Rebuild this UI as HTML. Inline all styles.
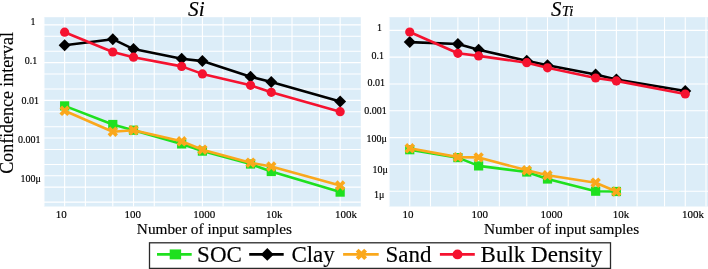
<!DOCTYPE html>
<html><head><meta charset="utf-8"><style>
html,body{margin:0;padding:0;background:#fff;width:708px;height:269px;overflow:hidden;}
svg{display:block;filter:blur(0.45px);}
text{stroke:#000;stroke-width:0.15px;paint-order:stroke;}
</style></head><body>
<svg width="716" height="275" viewBox="0 0 716 275" font-family='"Liberation Serif", serif' fill="#000">
<defs><clipPath id="cl"><rect x="43.9" y="17.2" width="316.90" height="189.30"/></clipPath>
<clipPath id="cr"><rect x="388.9" y="17.2" width="327.10" height="189.30"/></clipPath></defs>
<rect x="0" y="0" width="716" height="275" fill="#fff"/>
<rect x="43.9" y="17.2" width="316.90" height="189.30" fill="#dcedf8"/>
<rect x="388.9" y="17.2" width="327.10" height="189.30" fill="#dcedf8"/>
<path d="M43.91 17.2V206.5M64.64 17.2V206.5M85.37 17.2V206.5M112.79 17.2V206.5M133.52 17.2V206.5M154.25 17.2V206.5M181.67 17.2V206.5M202.40 17.2V206.5M223.13 17.2V206.5M250.55 17.2V206.5M271.28 17.2V206.5M292.01 17.2V206.5M319.43 17.2V206.5M340.16 17.2V206.5M43.9 202.17H360.8M43.9 187.16H360.8M43.9 175.80H360.8M43.9 164.44H360.8M43.9 149.43H360.8M43.9 138.07H360.8M43.9 126.71H360.8M43.9 111.70H360.8M43.9 100.34H360.8M43.9 88.98H360.8M43.9 73.97H360.8M43.9 62.61H360.8M43.9 51.25H360.8M43.9 36.24H360.8M43.9 24.88H360.8" stroke="#fff" stroke-width="1.1" fill="none"/>
<path d="M389.01 17.2V206.5M409.74 17.2V206.5M430.47 17.2V206.5M457.89 17.2V206.5M478.62 17.2V206.5M499.35 17.2V206.5M526.77 17.2V206.5M547.50 17.2V206.5M568.23 17.2V206.5M595.65 17.2V206.5M616.38 17.2V206.5M637.11 17.2V206.5M664.53 17.2V206.5M685.26 17.2V206.5M705.99 17.2V206.5M388.9 191.22H716M388.9 164.41H716M388.9 137.60H716M388.9 110.79H716M388.9 83.98H716M388.9 57.17H716M388.9 30.36H716" stroke="#fff" stroke-width="1.1" fill="none"/>
<g clip-path="url(#cl)"><polyline points="64.64,105.90 112.79,124.50 133.52,130.20 181.67,143.90 202.40,151.10 250.55,164.00 271.28,171.50 340.16,192.10" fill="none" stroke="#1fe01f" stroke-width="2.6" stroke-linejoin="round"/><rect x="60.04" y="101.30" width="9.20" height="9.20" fill="#1fe01f"/><rect x="108.19" y="119.90" width="9.20" height="9.20" fill="#1fe01f"/><rect x="128.92" y="125.60" width="9.20" height="9.20" fill="#1fe01f"/><rect x="177.07" y="139.30" width="9.20" height="9.20" fill="#1fe01f"/><rect x="197.80" y="146.50" width="9.20" height="9.20" fill="#1fe01f"/><rect x="245.95" y="159.40" width="9.20" height="9.20" fill="#1fe01f"/><rect x="266.68" y="166.90" width="9.20" height="9.20" fill="#1fe01f"/><rect x="335.56" y="187.50" width="9.20" height="9.20" fill="#1fe01f"/><polyline points="64.64,45.30 112.79,39.20 133.52,49.10 181.67,58.70 202.40,61.10 250.55,76.80 271.28,82.00 340.16,101.60" fill="none" stroke="#000000" stroke-width="2.6" stroke-linejoin="round"/><path d="M70.62,45.30L64.64,51.28L58.66,45.30L64.64,39.32Z" fill="#000000"/><path d="M118.77,39.20L112.79,45.18L106.81,39.20L112.79,33.22Z" fill="#000000"/><path d="M139.50,49.10L133.52,55.08L127.54,49.10L133.52,43.12Z" fill="#000000"/><path d="M187.65,58.70L181.67,64.68L175.69,58.70L181.67,52.72Z" fill="#000000"/><path d="M208.38,61.10L202.40,67.08L196.42,61.10L202.40,55.12Z" fill="#000000"/><path d="M256.53,76.80L250.55,82.78L244.57,76.80L250.55,70.82Z" fill="#000000"/><path d="M277.26,82.00L271.28,87.98L265.30,82.00L271.28,76.02Z" fill="#000000"/><path d="M346.14,101.60L340.16,107.58L334.18,101.60L340.16,95.62Z" fill="#000000"/><polyline points="64.64,110.80 112.79,131.70 133.52,130.20 181.67,141.30 202.40,149.70 250.55,162.70 271.28,166.50 340.16,185.50" fill="none" stroke="#faa81c" stroke-width="2.6" stroke-linejoin="round"/><path d="M64.64,113.40L67.24,116.00L69.84,113.40L67.24,110.80L69.84,108.20L67.24,105.60L64.64,108.20L62.04,105.60L59.44,108.20L62.04,110.80L59.44,113.40L62.04,116.00Z" fill="#faa81c"/><path d="M112.79,134.30L115.39,136.90L117.99,134.30L115.39,131.70L117.99,129.10L115.39,126.50L112.79,129.10L110.19,126.50L107.59,129.10L110.19,131.70L107.59,134.30L110.19,136.90Z" fill="#faa81c"/><path d="M133.52,132.80L136.12,135.40L138.72,132.80L136.12,130.20L138.72,127.60L136.12,125.00L133.52,127.60L130.92,125.00L128.32,127.60L130.92,130.20L128.32,132.80L130.92,135.40Z" fill="#faa81c"/><path d="M181.67,143.90L184.27,146.50L186.87,143.90L184.27,141.30L186.87,138.70L184.27,136.10L181.67,138.70L179.07,136.10L176.47,138.70L179.07,141.30L176.47,143.90L179.07,146.50Z" fill="#faa81c"/><path d="M202.40,152.30L205.00,154.90L207.60,152.30L205.00,149.70L207.60,147.10L205.00,144.50L202.40,147.10L199.80,144.50L197.20,147.10L199.80,149.70L197.20,152.30L199.80,154.90Z" fill="#faa81c"/><path d="M250.55,165.30L253.15,167.90L255.75,165.30L253.15,162.70L255.75,160.10L253.15,157.50L250.55,160.10L247.95,157.50L245.35,160.10L247.95,162.70L245.35,165.30L247.95,167.90Z" fill="#faa81c"/><path d="M271.28,169.10L273.88,171.70L276.48,169.10L273.88,166.50L276.48,163.90L273.88,161.30L271.28,163.90L268.68,161.30L266.08,163.90L268.68,166.50L266.08,169.10L268.68,171.70Z" fill="#faa81c"/><path d="M340.16,188.10L342.76,190.70L345.36,188.10L342.76,185.50L345.36,182.90L342.76,180.30L340.16,182.90L337.56,180.30L334.96,182.90L337.56,185.50L334.96,188.10L337.56,190.70Z" fill="#faa81c"/><polyline points="64.64,32.20 112.79,52.00 133.52,57.20 181.67,66.40 202.40,73.90 250.55,85.30 271.28,92.30 340.16,111.70" fill="none" stroke="#f5122f" stroke-width="2.6" stroke-linejoin="round"/><circle cx="64.64" cy="32.20" r="4.6" fill="#f5122f"/><circle cx="112.79" cy="52.00" r="4.6" fill="#f5122f"/><circle cx="133.52" cy="57.20" r="4.6" fill="#f5122f"/><circle cx="181.67" cy="66.40" r="4.6" fill="#f5122f"/><circle cx="202.40" cy="73.90" r="4.6" fill="#f5122f"/><circle cx="250.55" cy="85.30" r="4.6" fill="#f5122f"/><circle cx="271.28" cy="92.30" r="4.6" fill="#f5122f"/><circle cx="340.16" cy="111.70" r="4.6" fill="#f5122f"/></g>
<g clip-path="url(#cr)"><polyline points="409.74,149.70 457.89,157.60 478.62,165.90 526.77,172.00 547.50,179.00 595.65,191.20 616.38,191.50" fill="none" stroke="#1fe01f" stroke-width="2.6" stroke-linejoin="round"/><rect x="405.14" y="145.10" width="9.20" height="9.20" fill="#1fe01f"/><rect x="453.29" y="153.00" width="9.20" height="9.20" fill="#1fe01f"/><rect x="474.02" y="161.30" width="9.20" height="9.20" fill="#1fe01f"/><rect x="522.17" y="167.40" width="9.20" height="9.20" fill="#1fe01f"/><rect x="542.90" y="174.40" width="9.20" height="9.20" fill="#1fe01f"/><rect x="591.05" y="186.60" width="9.20" height="9.20" fill="#1fe01f"/><rect x="611.78" y="186.90" width="9.20" height="9.20" fill="#1fe01f"/><polyline points="409.74,42.10 457.89,44.00 478.62,49.80 526.77,60.80 547.50,65.20 595.65,74.50 616.38,79.50 685.26,91.00" fill="none" stroke="#000000" stroke-width="2.6" stroke-linejoin="round"/><path d="M415.72,42.10L409.74,48.08L403.76,42.10L409.74,36.12Z" fill="#000000"/><path d="M463.87,44.00L457.89,49.98L451.91,44.00L457.89,38.02Z" fill="#000000"/><path d="M484.60,49.80L478.62,55.78L472.64,49.80L478.62,43.82Z" fill="#000000"/><path d="M532.75,60.80L526.77,66.78L520.79,60.80L526.77,54.82Z" fill="#000000"/><path d="M553.48,65.20L547.50,71.18L541.52,65.20L547.50,59.22Z" fill="#000000"/><path d="M601.63,74.50L595.65,80.48L589.67,74.50L595.65,68.52Z" fill="#000000"/><path d="M622.36,79.50L616.38,85.48L610.40,79.50L616.38,73.52Z" fill="#000000"/><path d="M691.24,91.00L685.26,96.98L679.28,91.00L685.26,85.02Z" fill="#000000"/><polyline points="409.74,148.30 457.89,157.10 478.62,157.40 526.77,170.30 547.50,175.30 595.65,182.70 616.38,191.50" fill="none" stroke="#faa81c" stroke-width="2.6" stroke-linejoin="round"/><path d="M409.74,150.90L412.34,153.50L414.94,150.90L412.34,148.30L414.94,145.70L412.34,143.10L409.74,145.70L407.14,143.10L404.54,145.70L407.14,148.30L404.54,150.90L407.14,153.50Z" fill="#faa81c"/><path d="M457.89,159.70L460.49,162.30L463.09,159.70L460.49,157.10L463.09,154.50L460.49,151.90L457.89,154.50L455.29,151.90L452.69,154.50L455.29,157.10L452.69,159.70L455.29,162.30Z" fill="#faa81c"/><path d="M478.62,160.00L481.22,162.60L483.82,160.00L481.22,157.40L483.82,154.80L481.22,152.20L478.62,154.80L476.02,152.20L473.42,154.80L476.02,157.40L473.42,160.00L476.02,162.60Z" fill="#faa81c"/><path d="M526.77,172.90L529.37,175.50L531.97,172.90L529.37,170.30L531.97,167.70L529.37,165.10L526.77,167.70L524.17,165.10L521.57,167.70L524.17,170.30L521.57,172.90L524.17,175.50Z" fill="#faa81c"/><path d="M547.50,177.90L550.10,180.50L552.70,177.90L550.10,175.30L552.70,172.70L550.10,170.10L547.50,172.70L544.90,170.10L542.30,172.70L544.90,175.30L542.30,177.90L544.90,180.50Z" fill="#faa81c"/><path d="M595.65,185.30L598.25,187.90L600.85,185.30L598.25,182.70L600.85,180.10L598.25,177.50L595.65,180.10L593.05,177.50L590.45,180.10L593.05,182.70L590.45,185.30L593.05,187.90Z" fill="#faa81c"/><path d="M616.38,194.10L618.98,196.70L621.58,194.10L618.98,191.50L621.58,188.90L618.98,186.30L616.38,188.90L613.78,186.30L611.18,188.90L613.78,191.50L611.18,194.10L613.78,196.70Z" fill="#faa81c"/><polyline points="409.74,32.00 457.89,53.30 478.62,55.90 526.77,62.70 547.50,67.80 595.65,78.00 616.38,80.90 685.26,94.00" fill="none" stroke="#f5122f" stroke-width="2.6" stroke-linejoin="round"/><circle cx="409.74" cy="32.00" r="4.6" fill="#f5122f"/><circle cx="457.89" cy="53.30" r="4.6" fill="#f5122f"/><circle cx="478.62" cy="55.90" r="4.6" fill="#f5122f"/><circle cx="526.77" cy="62.70" r="4.6" fill="#f5122f"/><circle cx="547.50" cy="67.80" r="4.6" fill="#f5122f"/><circle cx="595.65" cy="78.00" r="4.6" fill="#f5122f"/><circle cx="616.38" cy="80.90" r="4.6" fill="#f5122f"/><circle cx="685.26" cy="94.00" r="4.6" fill="#f5122f"/></g>
<text x="33.1" y="24.5" font-size="10" text-anchor="middle" >1</text>
<text x="31.05" y="63.7" font-size="10" text-anchor="middle" >0.1</text>
<text x="30.2" y="103.7" font-size="10" text-anchor="middle" >0.01</text>
<text x="29.15" y="142.6" font-size="10" text-anchor="middle" >0.001</text>
<text x="30.65" y="182.1" font-size="10" text-anchor="middle" >100&#956;</text>
<text x="379.55" y="30.9" font-size="10" text-anchor="middle" >1</text>
<text x="377.8" y="58.8" font-size="10" text-anchor="middle" >0.1</text>
<text x="376.25" y="85.9" font-size="10" text-anchor="middle" >0.01</text>
<text x="375.55" y="114.4" font-size="10" text-anchor="middle" >0.001</text>
<text x="376.75" y="141.8" font-size="10" text-anchor="middle" >100&#956;</text>
<text x="380.2" y="172.6" font-size="10" text-anchor="middle" >10&#956;</text>
<text x="379.2" y="197.8" font-size="10" text-anchor="middle" >1&#956;</text>
<text x="61.15" y="217.7" font-size="11" text-anchor="middle" >10</text>
<text x="132.85" y="217.7" font-size="11" text-anchor="middle" >100</text>
<text x="204.2" y="217.7" font-size="11" text-anchor="middle" >1000</text>
<text x="274.2" y="217.7" font-size="11" text-anchor="middle" >10k</text>
<text x="345.9" y="217.7" font-size="11" text-anchor="middle" >100k</text>
<text x="407.9" y="217.7" font-size="11" text-anchor="middle" >10</text>
<text x="479.65" y="217.7" font-size="11" text-anchor="middle" >100</text>
<text x="551.55" y="217.7" font-size="11" text-anchor="middle" >1000</text>
<text x="621.0" y="217.7" font-size="11" text-anchor="middle" >10k</text>
<text x="692.9" y="217.7" font-size="11" text-anchor="middle" >100k</text>
<text x="214.4" y="234.4" font-size="15.3" text-anchor="middle" >Number of input samples</text>
<text x="561.6" y="234.4" font-size="15.3" text-anchor="middle" >Number of input samples</text>
<text x="0" y="0" font-size="17.9" text-anchor="middle" transform="translate(12.6,102.85) rotate(-90)">Confidence interval</text>
<text x="196.3" y="15.7" font-size="21.3" font-style="italic" text-anchor="middle">Si</text>
<text x="551.0" y="15.8" font-size="20.8" font-style="italic">S<tspan font-size="15" dx="0.4">Ti</tspan></text>
<rect x="149.5" y="242.8" width="461" height="25.6" fill="#fff" stroke="#2a2a2a" stroke-width="1.3"/>
<path d="M157,254.4H191.7" stroke="#1fe01f" stroke-width="2.6"/>
<rect x="169.69" y="249.43" width="11.43" height="9.94" fill="#1fe01f"/>
<text x="197.1" y="262.4" font-size="23" text-anchor="start" >SOC</text>
<path d="M249.2,254.4H283.7" stroke="#000000" stroke-width="2.6"/>
<path d="M273.76,254.40L267.30,260.86L260.84,254.40L267.30,247.94Z" fill="#000000"/>
<text x="291.4" y="262.4" font-size="23" text-anchor="start" >Clay</text>
<path d="M343.1,254.4H378.7" stroke="#faa81c" stroke-width="2.6"/>
<path d="M361.40,257.21L364.21,260.02L367.02,257.21L364.21,254.40L367.02,251.59L364.21,248.78L361.40,251.59L358.59,248.78L355.78,251.59L358.59,254.40L355.78,257.21L358.59,260.02Z" fill="#faa81c"/>
<text x="385.5" y="262.4" font-size="23" text-anchor="start" >Sand</text>
<path d="M439.9,254.4H474.8" stroke="#f5122f" stroke-width="2.6"/>
<circle cx="457.50" cy="254.40" r="4.968" fill="#f5122f"/>
<text x="480.6" y="262.4" font-size="23" text-anchor="start" >Bulk Density</text>
</svg>
</body></html>
